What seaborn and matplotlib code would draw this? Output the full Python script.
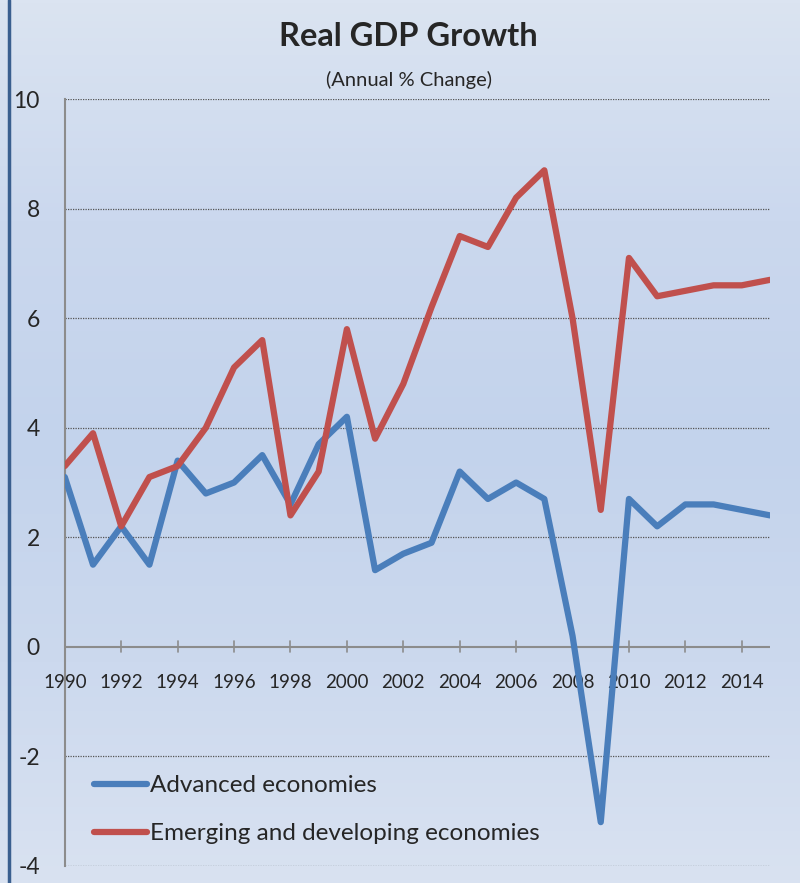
import numpy as np
import pandas as pd
import matplotlib
matplotlib.use("Agg")
import matplotlib.pyplot as plt
from matplotlib.colors import LinearSegmentedColormap
from matplotlib.lines import Line2D
import seaborn as sns

# Data
years = list(range(1990, 2016))
advanced = [3.1, 1.5, 2.2, 1.5, 3.4, 2.8, 3.0, 3.5, 2.6, 3.7, 4.2, 1.4, 1.7,
            1.9, 3.2, 2.7, 3.0, 2.7, 0.2, -3.2, 2.7, 2.2, 2.6, 2.6, 2.5, 2.4]
emerging = [3.3, 3.9, 2.2, 3.1, 3.3, 4.0, 5.1, 5.6, 2.4, 3.2, 5.8, 3.8, 4.8,
            6.2, 7.5, 7.3, 8.2, 8.7, 6.0, 2.5, 7.1, 6.4, 6.5, 6.6, 6.6, 6.7]
series_names = ["Advanced economies", "Emerging and developing economies"]
y_ticks = [-4, -2, 0, 2, 4, 6, 8, 10]
x_ticks = list(range(1990, 2015, 2))

df = pd.DataFrame({
    "Year": years * 2,
    "Growth": advanced + emerging,
    "Series": [series_names[0]] * len(years) + [series_names[1]] * len(years),
})

sns.set_style("white")
plt.rcParams["font.family"] = ["Lato", "DejaVu Sans"]
plt.rcParams["axes.unicode_minus"] = False

fig = plt.figure(figsize=(8, 8.83), dpi=100)

# gradient background
bg = fig.add_axes([0, 0, 1, 1], zorder=-10)
cmap = LinearSegmentedColormap.from_list(
    "bg", ["#dbe4f1", "#cbd8ee", "#c3d3ec", "#ccd9ee", "#d9e2f1"])
bg.imshow(np.linspace(0, 1, 256).reshape(-1, 1), aspect="auto", cmap=cmap,
          extent=[0, 1, 0, 1])
bg.axvline(0.011, color="#3a5f8f", lw=2.5)
bg.set_xlim(0, 1)
bg.set_ylim(0, 1)
bg.axis("off")

ax = fig.add_axes([0.081, 0.0193, 0.8815, 0.8685])
ax.patch.set_alpha(0)

palette = {series_names[0]: "#4a7ebb", series_names[1]: "#c0504d"}
sns.lineplot(data=df, x="Year", y="Growth", hue="Series", palette=palette,
             linewidth=4.5, ax=ax, legend=False, zorder=5)

ax.set_xlim(1990, 2015)
ax.set_ylim(-4, 10)
ax.set_xlabel("")
ax.set_ylabel("")

for s in ["top", "right", "bottom"]:
    ax.spines[s].set_visible(False)
ax.spines["left"].set_color("#8c8c8c")
ax.spines["left"].set_linewidth(1.5)

# dotted gridlines (except at zero)
for v in y_ticks:
    if v != 0:
        ax.axhline(v, color="#555555", lw=0.9, ls=(0, (1, 1)), zorder=1)
ax.axhline(0, color="#8c8c8c", lw=1.5, zorder=2)

ax.set_yticks(y_ticks)
ax.tick_params(axis="y", direction="out", length=8, width=1.5, color="#8c8c8c",
               labelsize=16.5, pad=10)

# x axis ticks drawn at zero line, labels below it
ax.set_xticks([])
for x in x_ticks:
    ax.plot([x, x], [-0.1, 0.1], color="#8c8c8c", lw=1.2, zorder=2, clip_on=False)
    ax.text(x, -0.65, str(x), ha="center", va="center", fontsize=13.5)

fig.text(0.51, 0.959, "Real GDP Growth", ha="center", va="center",
         fontsize=23.5, fontweight="bold")
fig.text(0.511, 0.909, "(Annual % Change)", ha="center", va="center", fontsize=14.5)

handles = [Line2D([], [], color=palette[n], lw=4.5, solid_capstyle="round")
           for n in series_names]
leg = ax.legend(handles, series_names, loc="lower left",
                bbox_to_anchor=(0.01, 0.0), frameon=False, fontsize=17.5,
                handlelength=2.2, handletextpad=0.1, labelspacing=1.1)

fig.savefig("out.png", dpi=100)
